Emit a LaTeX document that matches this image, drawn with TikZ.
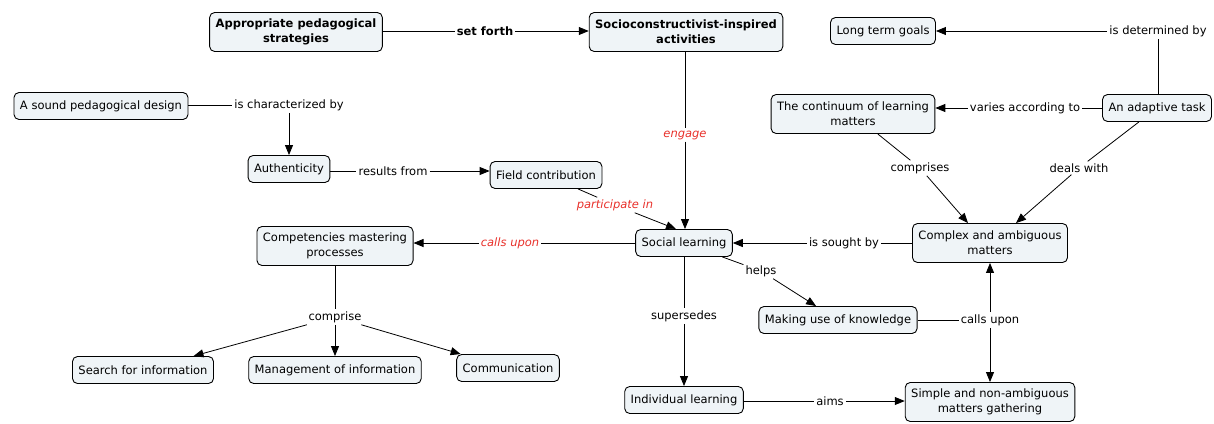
\documentclass[tikz,border=0pt]{standalone}
\usepackage{fontspec}
\setmainfont{DejaVu Sans}
\usetikzlibrary{arrows.meta}
\definecolor{boxfill}{HTML}{EFF4F7}
\definecolor{redlab}{HTML}{E8302A}
\tikzset{
  concept/.style={draw=black, line width=0.9pt, fill=boxfill, rounded corners=5pt,
    inner xsep=6pt, inner ysep=3pt, minimum height=27pt, align=center,
    font=\fontsize{11.5}{15}\selectfont},
  twoline/.style={minimum height=39pt},
  bolder/.style={font=\fontsize{11.5}{15}\selectfont\bfseries},
  lab/.style={inner sep=2pt, font=\fontsize{11.5}{13}\selectfont},
  redl/.style={lab, text=redlab, font=\fontsize{11.5}{13}\selectfont\itshape},
  conn/.style={line width=0.8pt},
  arr/.style={conn, -{Triangle[length=10pt,width=8pt]}}
}
\begin{document}
\begin{tikzpicture}[x=1pt,y=-1pt]
\useasboundingbox (0,0) rectangle (1214,423);
% concepts
\node[concept,twoline,bolder] (app) at (296,32) {Appropriate pedagogical\\strategies};
\node[concept,twoline,bolder] (soc) at (686,32) {Socioconstructivist-inspired\\activities};
\node[concept] (ltg) at (883,31) {Long term goals};
\node[concept] (snd) at (101,106) {A sound pedagogical design};
\node[concept] (aut) at (289,169) {Authenticity};
\node[concept] (fld) at (546,175) {Field contribution};
\node[concept,twoline] (cnt) at (853,114) {The continuum of learning\\matters};
\node[concept] (ada) at (1157,108) {An adaptive task};
\node[concept,twoline] (cpx) at (990,243) {Complex and ambiguous\\matters};
\node[concept] (sl) at (684,243) {Social learning};
\node[concept,twoline] (cmp) at (335,246) {Competencies mastering\\processes};
\node[concept] (srch) at (143,370) {Search for information};
\node[concept] (mgt) at (335,370) {Management of information};
\node[concept] (com) at (508,368) {Communication};
\node[concept] (muk) at (838,320) {Making use of knowledge};
\node[concept] (ind) at (684,400) {Individual learning};
\node[concept,twoline] (smp) at (990,402) {Simple and non-ambiguous\\matters gathering};
% linking phrases
\node[lab,font=\fontsize{11.5}{13}\selectfont\bfseries] (sf) at (485,31) {set forth};
\node[lab] (idb) at (1158,31) {is determined by};
\node[lab] (icb) at (289,105) {is characterized by};
\node[lab] (rf) at (393,171) {results from};
\node[redl] (pi) at (615,205) {participate in};
\node[redl] (eng) at (685,135) {engage};
\node[lab] (vat) at (1025,108) {varies according to};
\node[lab] (cps) at (920,168) {comprises};
\node[lab] (dw) at (1079,168) {deals with};
\node[lab] (isb) at (844,243) {is sought by};
\node[redl] (cu1) at (510,243) {calls upon};
\node[lab] (cpr) at (335,317) {comprise};
\node[lab] (hlp) at (761,271) {helps};
\node[lab] (cu2) at (990,320) {calls upon};
\node[lab] (sup) at (684,316) {supersedes};
\node[lab] (aim) at (830,401) {aims};
% connectors
\draw[conn] (app.east |- sf) -- (sf); \draw[arr] (sf) -- (sf -| soc.west);
\draw[conn] (ada.north -| idb.south) -- (idb.south); \draw[arr] (idb) -- (idb -| ltg.east);
\draw[conn] (snd.east |- icb) -- (icb); \draw[arr] (icb) -- (aut);
\draw[conn] (aut.east |- rf) -- (rf); \draw[arr] (rf) -- (rf -| fld.west);
\draw[conn] (fld) -- (pi); \draw[arr] (pi) -- ([xshift=-8pt]sl.north);
\draw[conn] (soc.south -| eng.north) -- (eng); \draw[arr] (eng) -- (sl.north -| eng.south);
\draw[conn] (ada.west |- vat) -- (vat); \draw[arr] (vat) -- (vat -| cnt.east);
\draw[conn] (cnt) -- (cps); \draw[arr] (cps) -- ([xshift=-22pt]cpx.north);
\draw[conn] (ada) -- (dw); \draw[arr] (dw) -- ([xshift=26pt]cpx.north);
\draw[conn] (cpx.west |- isb) -- (isb); \draw[arr] (isb) -- (isb -| sl.east);
\draw[conn] (sl.west |- cu1) -- (cu1); \draw[arr] (cu1) -- (cu1 -| cmp.east);
\draw[conn] (cmp) -- (cpr);
\draw[arr] (cpr) -- (srch); \draw[arr] (cpr) -- (mgt); \draw[arr] (cpr) -- (com);
\draw[conn] (sl) -- (hlp); \draw[arr] (hlp) -- (muk);
\draw[conn] (muk.east |- cu2) -- (cu2);
\draw[arr] (cu2) -- (cu2 |- cpx.south); \draw[arr] (cu2) -- (cu2 |- smp.north);
\draw[conn] (sl) -- (sup); \draw[arr] (sup) -- (ind);
\draw[conn] (ind.east |- aim) -- (aim); \draw[arr] (aim) -- (aim -| smp.west);
\end{tikzpicture}
\end{document}
